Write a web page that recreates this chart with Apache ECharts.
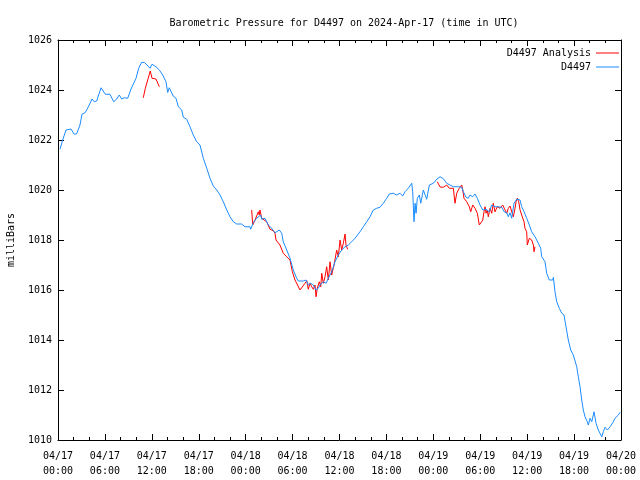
<!DOCTYPE html>
<html>
<head>
<meta charset="utf-8">
<script src="https://cdn.jsdelivr.net/npm/echarts@6/dist/echarts.min.js"></script>
<style>html,body{margin:0;padding:0;background:#fff}#c{width:640px;height:480px}</style>
</head>
<body>
<div id="c"></div>
<script>
// hours since 2024-04-17 00:00 UTC
var blueT = [0.26,0.6,1.02,1.66,2.08,2.39,2.81,3.07,3.49,4.0,4.35,4.64,4.95,5.5,6.05,6.65,7.12,7.51,7.84,8.15,8.48,8.91,9.34,9.98,10.32,10.7,11.04,11.38,11.77,12.02,12.53,12.96,13.39,13.81,14.03,14.23,14.75,15.09,15.39,15.82,16.03,16.46,16.88,17.3,17.74,18.16,18.58,19.02,19.44,19.86,20.3,20.72,21.14,21.58,22.0,22.42,22.85,23.49,23.92,24.56,24.64,24.98,25.41,25.92,26.05,26.47,26.9,27.33,27.75,27.97,28.3,28.61,28.81,29.25,29.67,30.09,30.53,30.73,31.37,31.72,32.01,32.32,32.65,33.0,33.29,33.51,33.93,34.28,34.57,35.0,35.43,35.85,36.28,36.71,37.13,37.56,37.98,38.62,39.05,39.48,39.9,40.32,40.76,41.18,41.6,42.04,42.37,42.88,43.32,43.74,44.08,44.38,44.8,45.24,45.36,45.53,45.66,45.79,45.95,46.21,46.39,46.72,47.15,47.49,48.0,48.43,48.86,49.28,49.71,50.13,50.56,51.2,51.63,51.84,52.18,52.47,52.69,53.04,53.33,53.63,53.97,54.32,54.74,55.16,55.47,55.89,56.31,56.75,57.04,57.39,57.59,57.81,58.02,58.32,58.66,58.87,59.09,59.3,59.6,59.94,60.28,60.58,61.0,61.43,61.73,61.86,62.28,62.5,62.83,63.27,63.35,63.56,63.78,64.11,64.42,64.71,64.97,65.26,65.57,65.9,66.12,66.34,66.54,66.76,66.98,67.18,67.4,67.69,67.82,68.04,68.26,68.55,68.81,69.1,69.32,69.54,69.74,69.96,70.25,70.6,70.94,71.24,71.66,71.88];
var blueP = [1021.63,1022.0,1022.4,1022.44,1022.23,1022.25,1022.6,1023.03,1023.1,1023.4,1023.64,1023.53,1023.56,1024.09,1023.83,1023.83,1023.53,1023.64,1023.8,1023.64,1023.69,1023.67,1024.04,1024.47,1024.87,1025.11,1025.1,1025.0,1024.87,1025.03,1024.93,1024.8,1024.6,1024.33,1023.9,1024.09,1023.75,1023.67,1023.33,1023.2,1022.91,1022.83,1022.53,1022.2,1021.93,1021.8,1021.27,1020.87,1020.47,1020.16,1020.0,1019.8,1019.53,1019.2,1018.93,1018.73,1018.64,1018.64,1018.53,1018.53,1018.43,1018.7,1018.87,1019.0,1018.83,1018.87,1018.6,1018.47,1018.29,1018.27,1018.4,1018.27,1017.93,1017.6,1017.27,1016.8,1016.47,1016.36,1016.36,1016.4,1016.2,1016.27,1016.2,1016.0,1016.07,1016.2,1016.33,1016.27,1016.47,1016.73,1017.13,1017.4,1017.6,1017.73,1017.8,1017.93,1018.07,1018.33,1018.53,1018.73,1018.93,1019.2,1019.27,1019.31,1019.47,1019.67,1019.84,1019.87,1019.8,1019.87,1019.76,1019.93,1020.07,1020.27,1019.93,1018.73,1019.47,1019.07,1019.67,1019.8,1019.47,1020.0,1019.63,1020.2,1020.27,1020.43,1020.53,1020.45,1020.27,1020.2,1020.13,1020.13,1020.11,1019.93,1019.71,1019.67,1019.8,1019.73,1019.84,1019.67,1019.4,1019.2,1019.23,1019.13,1019.4,1019.33,1019.33,1019.31,1019.13,1019.09,1018.93,1019.09,1018.87,1019.47,1019.63,1019.71,1019.6,1019.33,1019.13,1018.87,1018.6,1018.33,1018.13,1017.87,1017.67,1017.33,1017.13,1016.67,1016.4,1016.4,1016.51,1015.93,1015.53,1015.27,1015.07,1015.0,1014.53,1014.0,1013.6,1013.4,1013.36,1012.93,1012.53,1012.13,1011.6,1011.2,1010.93,1010.73,1010.6,1010.87,1010.73,1011.13,1010.67,1010.4,1010.33,1010.13,1010.33,1010.51,1010.4,1010.53,1010.69,1010.87,1011.0,1011.11];
var redT = [10.91,11.17,11.47,11.8,12.02,12.53,12.75,12.96,null,
  24.77,24.9,25.2,25.62,25.74,25.83,26.05,26.69,27.11,27.54,27.75,27.88,28.39,28.81,29.25,29.67,29.97,30.31,30.95,31.59,31.81,32.01,32.23,32.45,32.65,32.87,33.0,33.16,33.42,33.6,33.73,33.93,34.15,34.36,34.57,34.79,35.0,35.3,35.64,35.85,36.07,36.28,36.49,36.71,36.83,37.05,null,
  48.51,48.86,49.28,49.71,50.04,50.56,50.77,50.99,51.32,51.63,51.76,51.92,52.27,52.6,52.78,53.04,53.33,53.63,53.88,54.06,54.32,54.48,54.61,54.74,54.9,55.03,55.25,55.47,55.67,55.89,56.18,56.53,56.87,57.17,57.39,57.59,57.81,58.02,58.23,58.45,58.58,58.74,58.92,59.09,59.3,59.6,59.72,59.94,60.02,60.28,60.58,60.79,60.88,61.0];
var redP = [1023.69,1024.07,1024.4,1024.76,1024.47,1024.44,1024.4,1024.13,null,
  1019.2,1018.6,1018.8,1019.13,1019.0,1019.2,1018.87,1018.73,1018.43,1018.37,1018.27,1018.0,1017.8,1017.47,1017.33,1017.2,1016.73,1016.4,1016.0,1016.27,1016.37,1016.03,1016.27,1016.13,1016.03,1016.2,1015.73,1016.07,1016.33,1016.13,1016.67,1016.27,1016.53,1016.93,1016.4,1017.13,1016.6,1017.0,1017.6,1017.33,1018.0,1017.6,1017.87,1018.24,1017.8,1017.63,null,
  1020.33,1020.12,1020.11,1020.2,1020.07,1020.07,1019.47,1019.87,1020.07,1020.2,1020.0,1019.67,1019.53,1019.33,1019.13,1019.4,1019.27,1019.07,1018.6,1018.53,1018.8,1019.13,1019.33,1019.07,1019.2,1018.93,1019.27,1019.07,1019.47,1019.13,1019.33,1019.27,1019.4,1019.2,1019.07,1019.27,1019.36,1019.4,1018.93,1019.27,1019.53,1019.67,1019.53,1019.2,1019.0,1018.73,1018.47,1018.33,1017.8,1018.07,1018.0,1017.8,1017.53,1017.73];
var dayLabels = ['04/17','04/18','04/19','04/20'];
var hourLabels = ['00:00','06:00','12:00','18:00'];

function zip(t, p) { return t.map(function (v, i) { return v === null ? [null, null] : [v, p[i]]; }); }
var FONT = '"DejaVu Sans Mono", "Liberation Mono", monospace';
function line() { return { show: true, onZero: false, lineStyle: { color: '#000', width: 1 } }; }
function tick() { return { show: true, inside: true, length: 6, lineStyle: { color: '#000', width: 1 } }; }
function minor() { return { show: true, splitNumber: 3, length: 3, lineStyle: { color: '#000', width: 1 } }; }
var chart = echarts.init(document.getElementById('c'), null, { renderer: 'canvas' });
chart.setOption({
  animation: false,
  backgroundColor: '#fff',
  textStyle: { fontFamily: FONT },
  title: {
    text: 'Barometric Pressure for D4497 on 2024-Apr-17 (time in UTC)',
    left: 339, top: 13, textAlign: 'center',
    textStyle: { fontFamily: FONT, fontSize: 10, fontWeight: 'normal', color: '#000' }
  },
  legend: [
    { data: ['D4497 Analysis'], right: 16, top: 43, itemWidth: 23, itemHeight: 1, icon: 'rect', align: 'right',
      itemGap: 6, textStyle: { fontFamily: FONT, fontSize: 10, color: '#000' } },
    { data: ['D4497'], right: 16, top: 57, itemWidth: 23, itemHeight: 1, icon: 'rect', align: 'right',
      itemGap: 6, textStyle: { fontFamily: FONT, fontSize: 10, color: '#000' } }
  ],
  grid: { left: 58, right: 19, top: 40, bottom: 40, containLabel: false, outerBoundsMode: 'none' },
  xAxis: [
    {
      type: 'value', min: 0, max: 72, interval: 6, position: 'bottom',
      axisLine: line(), axisTick: tick(), minorTick: minor(),
      splitLine: { show: false }, minorSplitLine: { show: false },
      axisLabel: {
        show: true, margin: 9, color: '#000', fontFamily: FONT, fontSize: 10, lineHeight: 15,
        showMaxLabel: true, showMinLabel: true,
        formatter: function (v) {
          var d = Math.floor(v / 24), h = Math.round(v % 24 / 6);
          return dayLabels[d] + '\n' + hourLabels[h];
        }
      }
    },
    {
      type: 'value', min: 0, max: 72, interval: 6, position: 'top',
      axisLine: line(), axisTick: tick(), minorTick: minor(),
      splitLine: { show: false }, axisLabel: { show: false }
    }
  ],
  yAxis: [
    {
      type: 'value', min: 1010, max: 1026, interval: 2, position: 'left',
      axisLine: line(), axisTick: tick(), splitLine: { show: false },
      name: 'milliBars', nameLocation: 'middle', nameGap: 42, nameRotate: 90,
      nameTextStyle: { fontFamily: FONT, fontSize: 10, color: '#000' },
      axisLabel: { show: true, margin: 6, color: '#000', fontFamily: FONT, fontSize: 10,
        formatter: function (v) { return String(v); } }
    },
    {
      type: 'value', min: 1010, max: 1026, interval: 2, position: 'right',
      axisLine: line(), axisTick: tick(), splitLine: { show: false },
      axisLabel: { show: false }
    }
  ],
  series: [
    { name: 'D4497 Analysis', type: 'line', xAxisIndex: 0, yAxisIndex: 0, data: zip(redT, redP),
      showSymbol: false, symbol: 'none', connectNulls: false,
      lineStyle: { color: '#ff0000', width: 1 }, itemStyle: { color: '#ff0000' } },
    { name: 'D4497', type: 'line', xAxisIndex: 0, yAxisIndex: 0, data: zip(blueT, blueP),
      showSymbol: false, symbol: 'none',
      lineStyle: { color: '#1a8cff', width: 1 }, itemStyle: { color: '#1a8cff' } }
  ]
});
</script>
</body>
</html>
